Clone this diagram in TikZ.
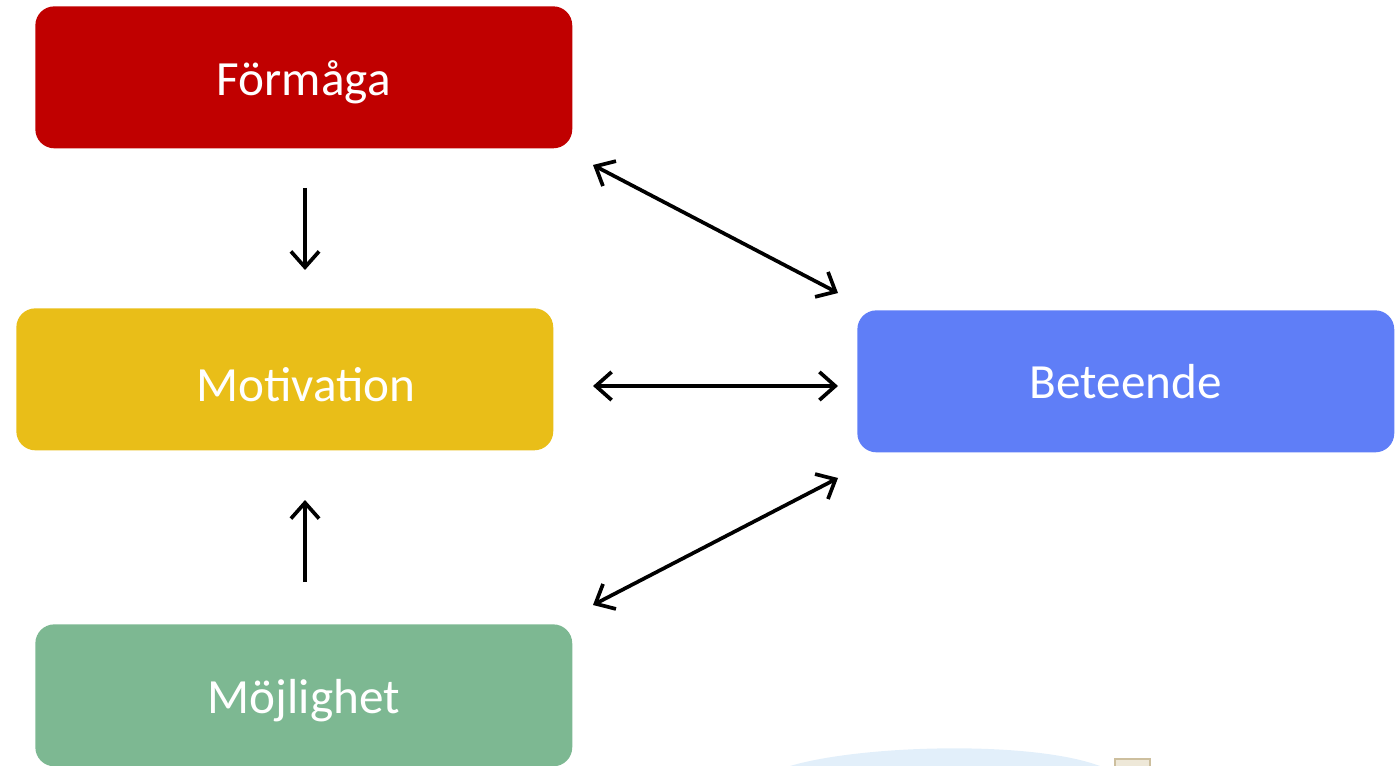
\documentclass[tikz,border=0pt]{standalone}
\usepackage{fontspec}
\setmainfont{Carlito}
\usetikzlibrary{arrows.meta}
\definecolor{cred}{HTML}{C00000}
\definecolor{cgold}{HTML}{E9BE18}
\definecolor{cgreen}{HTML}{7DB892}
\definecolor{cblue}{HTML}{5F7EF7}
\definecolor{cpale}{HTML}{E2EFFA}
\definecolor{ctan}{HTML}{CDBF9E}
\definecolor{ctanin}{HTML}{EEE8D8}
\newcommand{\lowered}[1]{\raisebox{-0.1cm}[\height][\depth]{#1}}
\begin{document}
\begin{tikzpicture}[x=0.02cm,y=-0.02cm,
  box/.style={rounded corners=0.38cm, minimum width=10.74cm, minimum height=2.84cm,
    inner sep=0pt, text=white, font=\fontsize{28}{34}\selectfont, anchor=north west},
  link/.style={line width=2.1pt, {Straight Barb[length=9pt,width=16pt,line width=2.1pt]}-{Straight Barb[length=9pt,width=16pt,line width=2.1pt]}},
  one/.style={line width=2.1pt, -{Straight Barb[length=9pt,width=16pt,line width=2.1pt]}}]
\useasboundingbox (0,0) rectangle (1395,766);
% background partial shapes
\fill[cpale] (790,766) .. controls (860,745) and (1030,740) .. (1100,766) -- cycle;
\filldraw[fill=ctanin, draw=ctan, line width=1pt] (1115,759) rectangle (1150,768);
% boxes
\node[box, fill=cred] (f) at (35,6) {\lowered{Förmåga}};
\node[box, fill=cgold] (m) at (16,308) {\hspace{0.84cm}\lowered{Motivation}};
\node[box, fill=cgreen] (o) at (35,624) {\lowered{Möjlighet}};
\node[box, fill=cblue] (b) at (857,310) {Beteende};
% connector end points
\coordinate (f1) at (305,188);
\coordinate (m1) at (305,270);
\coordinate (o1) at (305,582);
\coordinate (m2) at (305,500);
\coordinate (fa) at (593,165);
\coordinate (ba) at (838,293);
\coordinate (ma) at (593,386);
\coordinate (bm) at (838,386);
\coordinate (oa) at (593,605);
\coordinate (bo) at (838,478);
% connectors
\draw[one] (f1) -- (m1);
\draw[one] (o1) -- (m2);
\draw[link] (fa) -- (ba);
\draw[link] (ma) -- (bm);
\draw[link] (oa) -- (bo);
\end{tikzpicture}
\end{document}
